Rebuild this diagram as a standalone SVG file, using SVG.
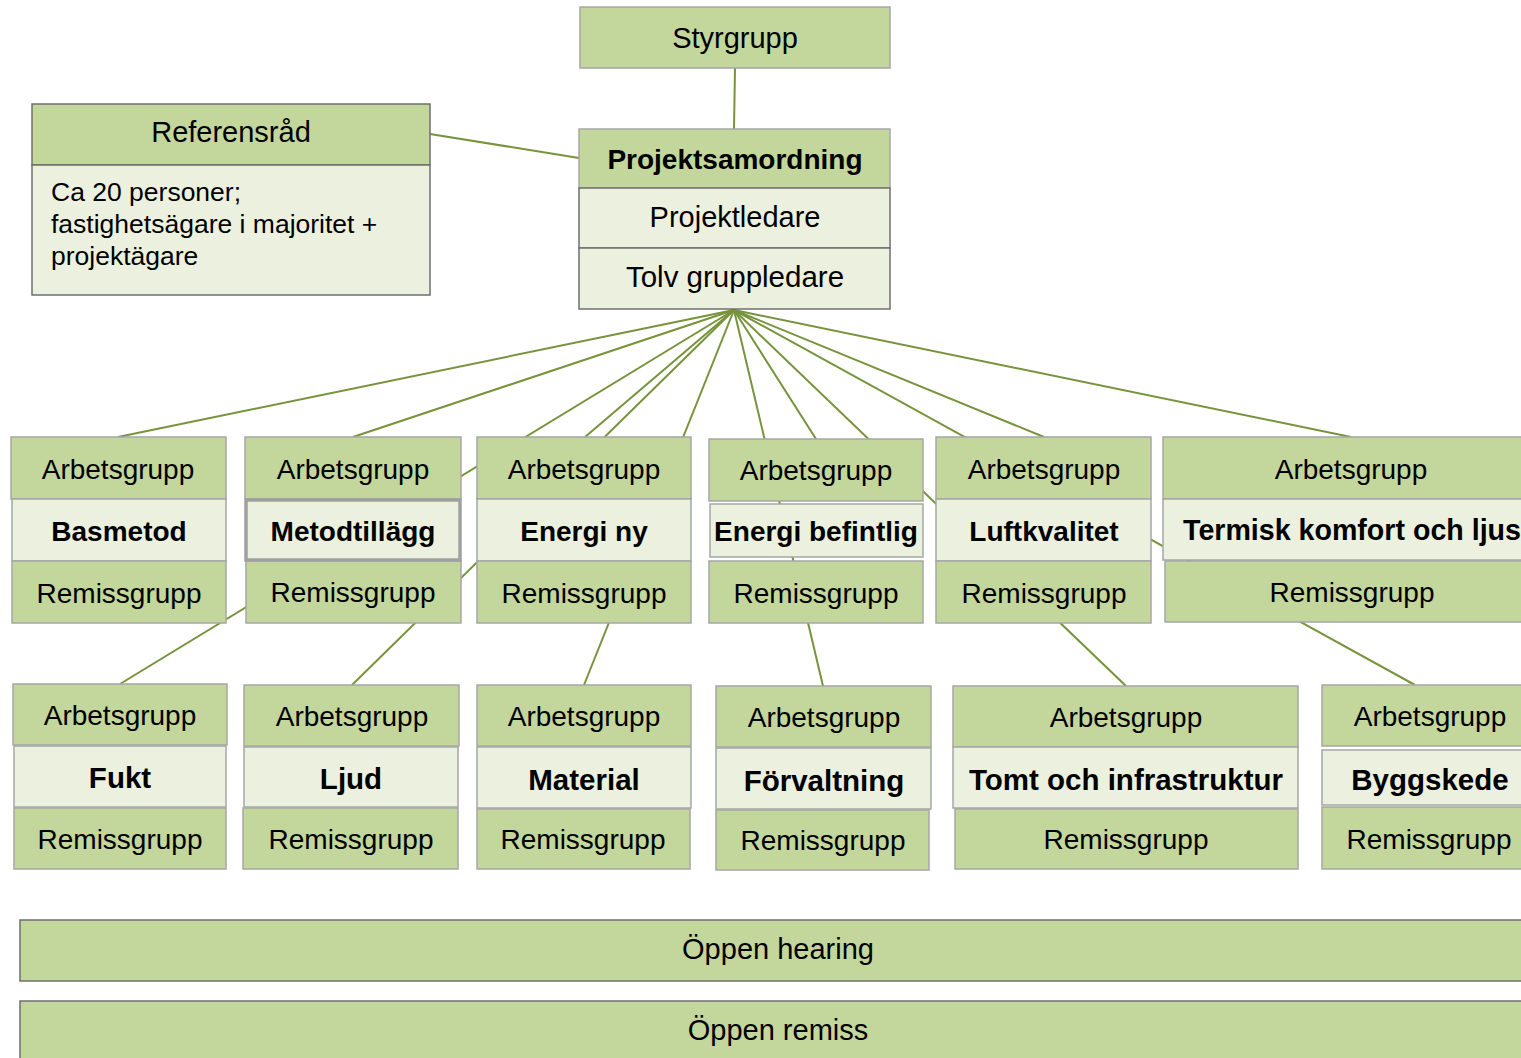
<svg xmlns="http://www.w3.org/2000/svg" width="1521" height="1058" viewBox="0 0 1521 1058">
<style>
text{font-family:"Liberation Sans",Arial,sans-serif;fill:#000;text-anchor:middle}
.g{fill:#c3d69b;stroke:#a6a6a6;stroke-width:1.5}
.l{fill:#ebf1de;stroke:#a6a6a6;stroke-width:1.5}
.dg{fill:#c3d69b;stroke:#6f6f6f;stroke-width:1.5}
.dl{fill:#ebf1de;stroke:#6f6f6f;stroke-width:1.5}
.thick{stroke-width:3.5;stroke:#a0a0a0}
.t{font-size:28px}
.b{font-size:28px;font-weight:bold}
.b2{font-size:29.5px;font-weight:bold}
.big{font-size:29px}
.c line{stroke:#77933c;stroke-width:2}
</style>
<rect width="1521" height="1058" fill="#fff"/>
<g class="c" id="connectors">
<line x1="735" y1="68" x2="734" y2="129"/>
<line x1="430" y1="134" x2="579" y2="158"/>
<line x1="734" y1="310" x2="118" y2="437"/>
<line x1="734" y1="310" x2="353" y2="437"/>
<line x1="734" y1="310" x2="120" y2="684"/>
<line x1="734" y1="310" x2="352" y2="685"/>
<line x1="734" y1="310" x2="585" y2="437"/>
<line x1="734" y1="310" x2="584" y2="685"/>
<line x1="734" y1="310" x2="823" y2="686"/>
<line x1="734" y1="310" x2="816" y2="439"/>
<line x1="734" y1="310" x2="1126" y2="686"/>
<line x1="734" y1="310" x2="1415" y2="685"/>
<line x1="734" y1="310" x2="1044" y2="437"/>
<line x1="734" y1="310" x2="1351" y2="437"/>
</g>
<g id="styrgrupp">
<rect class="g" x="580" y="7" width="310" height="61"/>
<text class="big" x="735" y="48">Styrgrupp</text>
</g>
<g id="referensrad">
<rect class="dg" x="32" y="104" width="398" height="61"/>
<rect class="dl" x="32" y="165" width="398" height="130"/>
<text class="big" x="231" y="142">Referensråd</text>
<text style="font-size:26.5px;text-anchor:start" x="51">
<tspan x="51" y="201">Ca 20 personer;</tspan>
<tspan x="51" y="233">fastighetsägare i majoritet +</tspan>
<tspan x="51" y="265">projektägare</tspan>
</text>
</g>
<g id="projektsamordning">
<rect class="g" x="579" y="129" width="311" height="59"/>
<rect class="l" x="579" y="188" width="311" height="60" style="stroke:#6f6f6f"/>
<rect class="l" x="579" y="248" width="311" height="61" style="stroke:#6f6f6f"/>
<text style="font-size:28px;font-weight:bold" x="735" y="169">Projektsamordning</text>
<text class="big" x="735" y="227">Projektledare</text>
<text style="font-size:29.5px" x="735" y="287">Tolv gruppledare</text>
</g>
<g id="basmetod">
<rect class="g" x="11" y="437" width="215" height="62"/>
<rect class="l" x="12" y="499" width="214" height="62"/>
<rect class="g" x="12" y="561" width="214" height="62"/>
<text class="t" x="118" y="479">Arbetsgrupp</text>
<text class="b" x="119" y="541">Basmetod</text>
<text class="t" x="119" y="603">Remissgrupp</text>
</g>
<g id="metodtillagg">
<rect class="g" x="245" y="437" width="216" height="62"/>
<rect class="g" x="246" y="561" width="215" height="62"/>
<rect class="l thick" x="246" y="500" width="214" height="60"/>
<text class="t" x="353" y="479">Arbetsgrupp</text>
<text class="b" x="353" y="541">Metodtillägg</text>
<text class="t" x="353" y="602">Remissgrupp</text>
</g>
<g id="energi-ny">
<rect class="g" x="477" y="437" width="214" height="62"/>
<rect class="l" x="477" y="499" width="214" height="62"/>
<rect class="g" x="477" y="561" width="214" height="62"/>
<text class="t" x="584" y="479">Arbetsgrupp</text>
<text class="b" x="584" y="541">Energi ny</text>
<text class="t" x="584" y="603">Remissgrupp</text>
</g>
<g id="energi-befintlig">
<rect class="g" x="709" y="439" width="214" height="62"/>
<rect class="l" x="710" y="504" width="213" height="53"/>
<rect class="g" x="709" y="561" width="214" height="62"/>
<text class="t" x="816" y="480">Arbetsgrupp</text>
<text class="b" x="816" y="541">Energi befintlig</text>
<text class="t" x="816" y="603">Remissgrupp</text>
</g>
<g id="luftkvalitet">
<rect class="g" x="936" y="437" width="215" height="62"/>
<rect class="l" x="936" y="499" width="215" height="62"/>
<rect class="g" x="936" y="561" width="215" height="62"/>
<text class="t" x="1044" y="479">Arbetsgrupp</text>
<text class="b" x="1044" y="541">Luftkvalitet</text>
<text class="t" x="1044" y="603">Remissgrupp</text>
</g>
<g id="termisk">
<rect class="g" x="1163" y="437" width="376" height="62"/>
<rect class="l" x="1163" y="499" width="376" height="61"/>
<rect class="g" x="1165" y="561" width="374" height="61"/>
<text class="t" x="1351" y="479">Arbetsgrupp</text>
<text style="font-size:28.6px;font-weight:bold" x="1352" y="540">Termisk komfort och ljus</text>
<text class="t" x="1352" y="602">Remissgrupp</text>
</g>
<g id="fukt">
<rect class="g" x="13" y="684" width="214" height="61"/>
<rect class="l" x="14" y="746" width="212" height="61"/>
<rect class="g" x="14" y="808" width="212" height="61"/>
<text class="t" x="120" y="725">Arbetsgrupp</text>
<text class="b2" x="120" y="788">Fukt</text>
<text class="t" x="120" y="849">Remissgrupp</text>
</g>
<g id="ljud">
<rect class="g" x="244" y="685" width="215" height="61"/>
<rect class="l" x="244" y="747" width="214" height="60"/>
<rect class="g" x="243" y="808" width="215" height="61"/>
<text class="t" x="352" y="726">Arbetsgrupp</text>
<text class="b2" x="351" y="789">Ljud</text>
<text class="t" x="351" y="849">Remissgrupp</text>
</g>
<g id="material">
<rect class="g" x="477" y="685" width="214" height="61"/>
<rect class="l" x="477" y="747" width="214" height="61"/>
<rect class="g" x="477" y="809" width="213" height="60"/>
<text class="t" x="584" y="726">Arbetsgrupp</text>
<text class="b2" x="584" y="790">Material</text>
<text class="t" x="583" y="849">Remissgrupp</text>
</g>
<g id="forvaltning">
<rect class="g" x="716" y="686" width="215" height="61"/>
<rect class="l" x="716" y="748" width="215" height="61"/>
<rect class="g" x="716" y="810" width="213" height="60"/>
<text class="t" x="824" y="727">Arbetsgrupp</text>
<text class="b2" x="824" y="791">Förvaltning</text>
<text class="t" x="823" y="850">Remissgrupp</text>
</g>
<g id="tomt">
<rect class="g" x="953" y="686" width="345" height="61"/>
<rect class="l" x="953" y="747" width="345" height="61"/>
<rect class="g" x="955" y="809" width="343" height="60"/>
<text class="t" x="1126" y="727">Arbetsgrupp</text>
<text class="b2" x="1126" y="790">Tomt och infrastruktur</text>
<text class="t" x="1126" y="849">Remissgrupp</text>
</g>
<g id="byggskede">
<rect class="g" x="1322" y="685" width="216" height="61"/>
<rect class="l" x="1322" y="750" width="216" height="55"/>
<rect class="g" x="1322" y="807" width="216" height="62"/>
<text class="t" x="1430" y="726">Arbetsgrupp</text>
<text class="b2" x="1430" y="790">Byggskede</text>
<text class="t" x="1429" y="849">Remissgrupp</text>
</g>
<g id="oppen-hearing">
<rect class="dg" x="20" y="920" width="1516" height="61"/>
<text class="big" x="778" y="959">Öppen hearing</text>
</g>
<g id="oppen-remiss">
<rect class="dg" x="20" y="1001" width="1516" height="70"/>
<text class="big" x="778" y="1040">Öppen remiss</text>
</g>
</svg>
